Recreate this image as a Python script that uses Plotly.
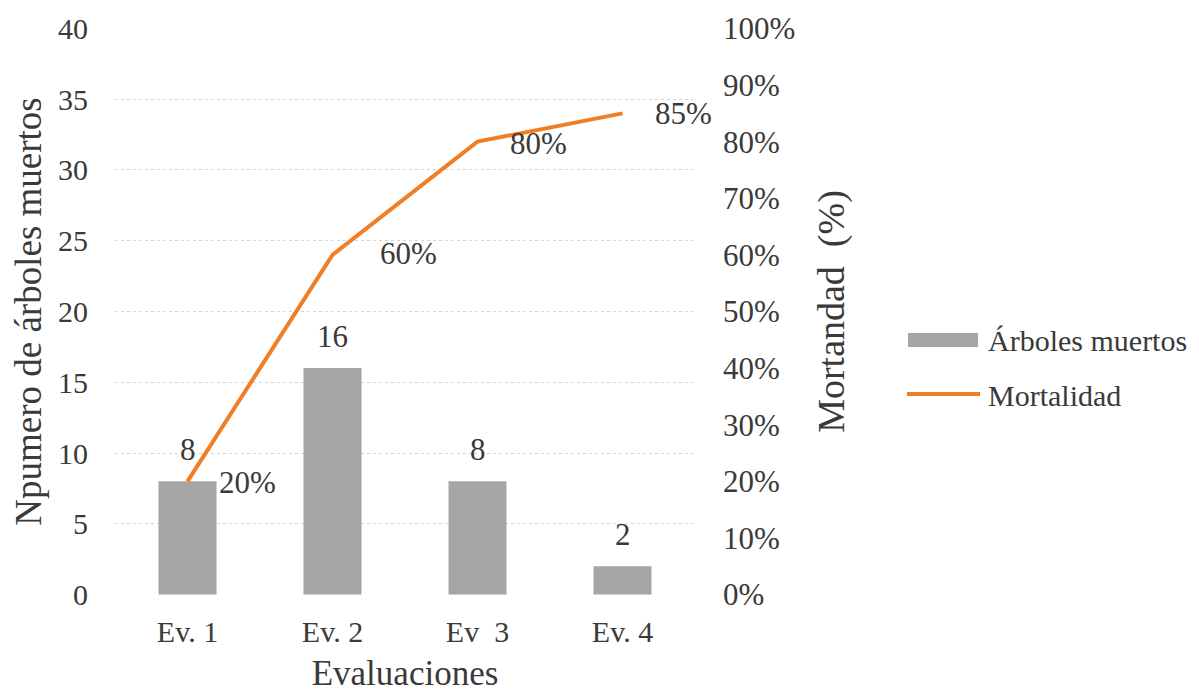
import plotly.graph_objects as go

categories = ["Ev. 1", "Ev. 2", "Ev  3", "Ev. 4"]
dead_trees = [8, 16, 8, 2]
mortality = [20, 60, 80, 85]
mortality_labels = ["20%", "60%", "80%", "85%"]
left_ticks = [0, 5, 10, 15, 20, 25, 30, 35, 40]
right_ticks = [0, 10, 20, 30, 40, 50, 60, 70, 80, 90, 100]
legend_names = ["Árboles muertos", "Mortalidad"]

FONT = "Liberation Serif, Times New Roman, serif"
TXT = "#3a3a3a"
BAR_COLOR = "#a5a5a5"
LINE_COLOR = "#f07e26"
OFF = 8  # page body margin offset
W, H = 1199 - OFF, 693 - OFF
L, R, T, B = 115 - OFF, 504, 28 - OFF, 98
PW, PH = W - L - R, H - T - B

fig = go.Figure()
fig.add_trace(go.Bar(
    x=categories, y=dead_trees, name=legend_names[0],
    marker=dict(color=BAR_COLOR, line=dict(width=0)),
    width=0.4, showlegend=False,
))
fig.add_trace(go.Scatter(
    x=categories, y=mortality, name=legend_names[1], yaxis="y2",
    mode="lines", line=dict(color=LINE_COLOR, width=4), showlegend=False,
))
# bar value labels
for c, v in zip(categories, dead_trees):
    fig.add_annotation(x=c, y=v, yref="y", text=str(v), showarrow=False,
                       xanchor="center", yanchor="bottom", yshift=12,
                       font=dict(size=31, color=TXT, family=FONT))
# line value labels
yshifts = [-1, 1, -2, 0]
xshifts = [29, 45, 30, 30]
for c, v, lab, ys, xs in zip(categories, mortality, mortality_labels, yshifts, xshifts):
    fig.add_annotation(x=c, y=v, yref="y2", text=lab, showarrow=False,
                       xanchor="left", yanchor="middle", xshift=xs, yshift=ys,
                       font=dict(size=31, color=TXT, family=FONT))

# manual legend (Excel style), positions given in screen pixels
def fx(x):
    return (x - OFF - L) / PW
def fy(y):
    return (H - B - (y - OFF)) / PH
fig.add_shape(type="rect", xref="paper", yref="paper",
              x0=fx(908), x1=fx(978), y0=fy(347), y1=fy(333),
              fillcolor=BAR_COLOR, line=dict(width=0))
fig.add_shape(type="line", xref="paper", yref="paper",
              x0=fx(907), x1=fx(980), y0=fy(394), y1=fy(394),
              line=dict(color=LINE_COLOR, width=4))
for name, yc in zip(legend_names, [340, 395]):
    fig.add_annotation(xref="paper", yref="paper", x=fx(986), y=fy(yc),
                       text=name, showarrow=False, xanchor="left", yanchor="middle",
                       font=dict(size=30, color=TXT, family=FONT))

fig.update_layout(
    width=W, height=H,
    margin=dict(l=L, r=R, t=T, b=B, autoexpand=False),
    paper_bgcolor="white", plot_bgcolor="white",
    font=dict(family=FONT, size=30, color=TXT),
    showlegend=False,
    xaxis=dict(range=[-0.5, 3.5], showline=False, ticks="", tickfont=dict(size=30),
               automargin=False, ticklabelstandoff=16,
               title=dict(text="Evaluaciones", font=dict(size=35), standoff=20)),
    yaxis=dict(range=[-0.03, 40.03], tickvals=left_ticks, showgrid=True,
               gridcolor="#d4d4d4", griddash="dot", gridwidth=1, zeroline=False,
               ticks="", tickfont=dict(size=30), ticklabelstandoff=26, automargin=False,
               title=dict(text="Npumero de árboles muertos", font=dict(size=37), standoff=10)),
    yaxis2=dict(range=[-0.075, 100.075], tickvals=right_ticks, ticktext=[f"{t}%" for t in right_ticks],
                overlaying="y", side="right", showgrid=False, zeroline=False,
                ticks="", tickfont=dict(size=31), ticklabelstandoff=27, automargin=False,
                title=dict(text="Mortandad\u00a0 (%)", font=dict(size=38), standoff=23)),
)
fig.write_html("out.html")
